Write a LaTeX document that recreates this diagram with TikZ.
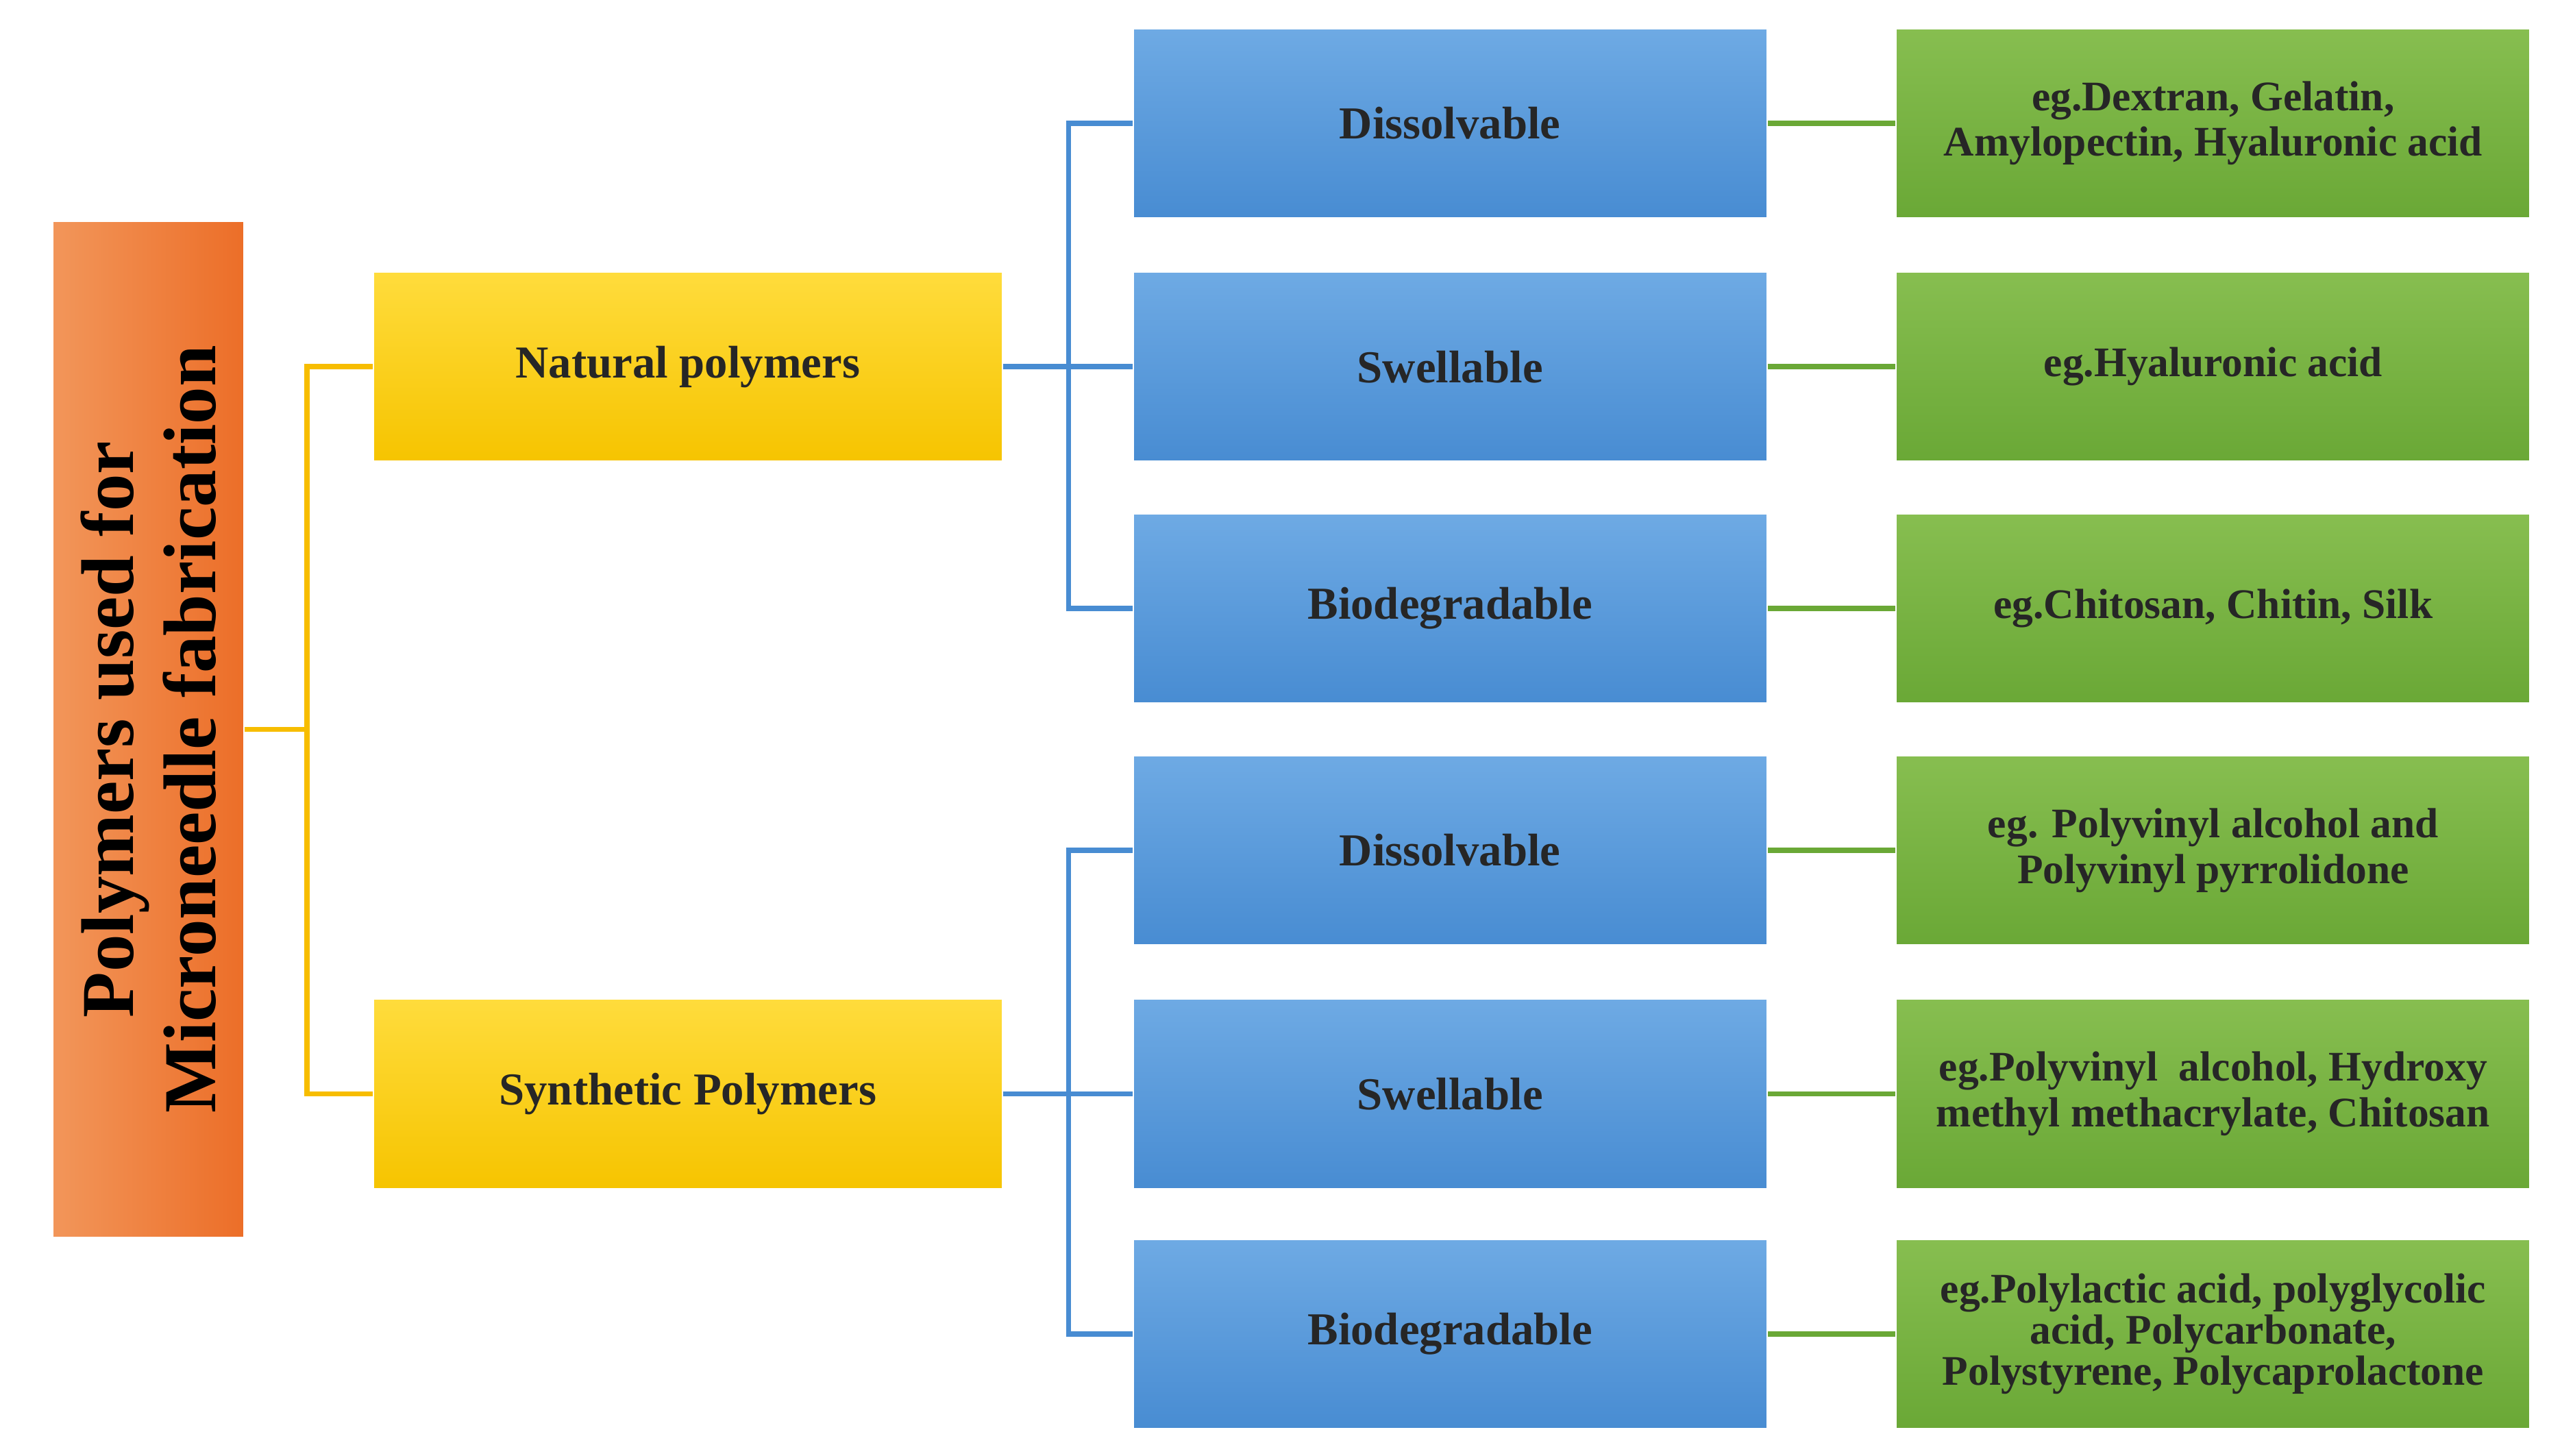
\documentclass[tikz,border=0pt]{standalone}
\usepackage{fontspec}
\setmainfont{Liberation Serif}
\definecolor{org}{RGB}{236,110,40}
\definecolor{orgL}{RGB}{242,150,90}
\definecolor{yel}{RGB}{246,196,0}
\definecolor{yelL}{RGB}{255,220,60}
\definecolor{blu}{RGB}{72,140,210}
\definecolor{bluL}{RGB}{110,170,228}
\definecolor{grn}{RGB}{106,168,54}
\definecolor{grnL}{RGB}{135,190,80}
\begin{document}
\begin{tikzpicture}[x=0.02385cm,y=-0.02385cm,
 box/.style={draw=white,line width=0.6pt,minimum width=388*0.02385cm,minimum height=116*0.02385cm,anchor=north west,font=\bfseries\fontsize{19}{20}\selectfont,align=center,text=black!85,inner sep=1pt},
 yb/.style={box,top color=yelL,bottom color=yel,minimum width=385*0.02385cm},
 bb/.style={box,top color=bluL,bottom color=blu},
 gb/.style={box,top color=grnL,bottom color=grn,font=\bfseries\fontsize{17.5}{19}\selectfont},
 yl/.style={draw=yel!90!orange,line width=2.2pt},
 bl/.style={draw=blu,line width=2.2pt},
 gl/.style={draw=grn,line width=2.2pt}]
\useasboundingbox (0,0) rectangle (1560,891);
\node[draw=white,line width=0.6pt,left color=orgL,right color=org,minimum width=117*0.02385cm,minimum height=622*0.02385cm,anchor=north west] (root) at (32,135) {};
\node[rotate=90,font=\bfseries\fontsize{31}{34}\selectfont,align=center] at (root.center) {Polymers used for\\Microneedle fabrication};
\node[yb] (nat) at (228,166) {Natural polymers};
\node[yb] (syn) at (228,611) {Synthetic Polymers};
\foreach \n/\y/\t in {a/17/Dissolvable,b/166/Swellable,c/314/Biodegradable,d/462/Dissolvable,e/611/Swellable,f/758/Biodegradable}
  \node[bb] (\n) at (693,\y) {\t};
\node[gb] (ga) at (1160,17) {eg.Dextran, Gelatin,\\Amylopectin, Hyaluronic acid};
\node[gb] (gb) at (1160,166) {eg.Hyaluronic acid};
\node[gb] (gc) at (1160,314) {eg.Chitosan, Chitin, Silk};
\node[gb] (gd) at (1160,462) {eg. Polyvinyl alcohol and\\Polyvinyl pyrrolidone};
\node[gb] (ge) at (1160,611) {eg.Polyvinyl\ \ alcohol, Hydroxy\\methyl methacrylate, Chitosan};
\node[gb,font=\bfseries\fontsize{17.5}{17}\selectfont] (gf) at (1160,758) {eg.Polylactic acid, polyglycolic\\acid, Polycarbonate,\\Polystyrene, Polycaprolactone};
\coordinate (r) at (188,446);
\draw[yl] (root.east) -- (root.east -| r);
\draw[yl] (nat.west) -| (r) |- (syn.west);
\foreach \p/\x/\y/\z in {nat/a/b/c,syn/d/e/f}{
  \draw[bl] (\p.east) -- (\y.west);
  \draw[bl] (\x.west) -- ++(-39,0) |- (\z.west);
}
\foreach \x in {a,b,c,d,e,f} \draw[gl] (\x.east) -- (g\x.west);
\end{tikzpicture}
\end{document}
